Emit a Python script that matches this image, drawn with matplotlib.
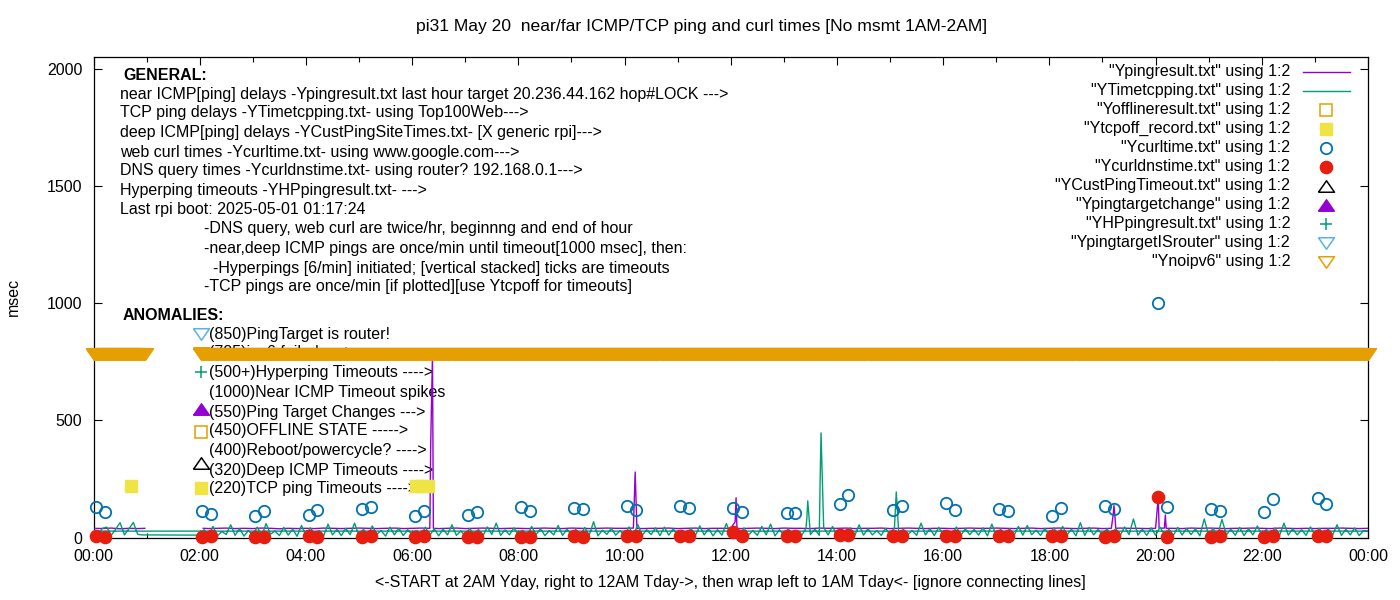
import numpy as np
import matplotlib
matplotlib.use("Agg")
import matplotlib.pyplot as plt

plt.rcParams['font.family'] = ['Liberation Sans', 'DejaVu Sans']
FS = 11.5

PURPLE = '#9400d3'
GREEN = '#009e73'
SKY = '#56b4e9'
ORANGE = '#e69f00'
YELLOW = '#f0e442'
BLUE = '#0072b2'
RED = '#e51e10'
nan = np.nan

# ---------------- data (times in "HH:MM", values in msec) ----------------
# near ICMP ping (Ypingresult.txt), every 10 min from 00:00 to 24:00, nan = no data
ping_vals = [
    40, 39, 41, 38, 40, 39,        # 00
    nan, nan, nan, nan, nan, nan,  # 01
    nan, 39, 40, 41, 39, 40,       # 02
    39, 41, 40, 38, 40, 39,        # 03
    40, 39, 41, 40, 39, 40,        # 04
    41, 40, 39, 40, 41, 39,        # 05
    40, 41, 40, 39, 40, 41,        # 06
    39, 40, 41, 40, 39, 40,        # 07
    40, 39, 40, 41, 40, 39,        # 08
    41, 40, 39, 40, 41, 40,        # 09
    40, 41, 39, 40, 40, 41,        # 10
    39, 40, 41, 39, 40, 40,        # 11
    40, 39, 40, 41, 40, 39,        # 12
    41, 40, 40, 39, 41, 40,        # 13
    40, 41, 39, 40, 40, 41,        # 14
    39, 40, 41, 40, 39, 40,        # 15
    40, 39, 40, 41, 40, 40,        # 16
    41, 40, 39, 40, 41, 39,        # 17
    40, 41, 40, 39, 40, 41,        # 18
    39, 40, 41, 40, 40, 39,        # 19
    40, 41, 40, 39, 41, 40,        # 20
    41, 40, 39, 40, 40, 41,        # 21
    40, 39, 41, 40, 39, 40,        # 22
    39, 40, 40, 41, 40, 39,        # 23
    40,                            # 24:00
]
ping_spike_t = ["00:58", "02:04", "06:21", "06:23", "06:24", "10:11", "10:12", "10:13", "10:14",
                "12:05", "12:06", "12:07", "19:12", "19:13", "19:14", "19:15",
                "20:03", "20:04", "20:11", "20:12"]
ping_spike_v = [40, 40, 400, 780, 40, 160, 280, 160, 40,
                68, 170, 40, 95, 137, 95, 40,
                172, 40, 97, 40]

# TCP ping (YTimetcpping.txt), every 5 min; file starts 02:00, runs to 24:00,
# then wraps to 00:00..00:55 and one last point at 01:58
tcp_main = [
    9, 34, 12, 48, 8, 26, 14, 55, 10, 38, 7, 30,      # 02
    12, 45, 8, 60, 15, 28, 9, 44, 11, 36, 6, 52,      # 03
    10, 42, 14, 30, 8, 58, 12, 35, 9, 40, 13, 62,     # 04
    8, 36, 11, 50, 14, 30, 7, 45, 12, 40, 9, 34,      # 05
    13, 30, 9, 45, 10, 38, 8, 36, 12, 55, 10, 28,     # 06
    9, 40, 12, 35, 8, 46, 14, 62, 10, 33, 12, 42,     # 07
    11, 32, 8, 48, 13, 38, 9, 30, 12, 52, 10, 36,     # 08
    12, 35, 9, 44, 10, 68, 8, 32, 14, 40, 11, 30,     # 09
    8, 46, 12, 56, 10, 34, 13, 42, 9, 45, 11, 38,     # 10
    10, 32, 14, 40, 9, 50, 12, 38, 8, 34, 11, 60,     # 11
    13, 36, 9, 42, 11, 30, 10, 48, 12, 58, 8, 34,     # 12
    10, 38, 12, 30, 9, 40, 13, 36, 10, 44, 12, 48,    # 13
    9, 35, 13, 42, 8, 55, 11, 38, 12, 30, 10, 40,     # 14
    11, 44, 9, 36, 13, 30, 10, 62, 12, 38, 9, 44,     # 15
    12, 30, 10, 46, 9, 38, 13, 35, 11, 42, 8, 58,     # 16
    10, 36, 12, 38, 9, 48, 11, 52, 13, 32, 10, 40,    # 17
    9, 42, 11, 48, 12, 36, 8, 64, 10, 44, 12, 35,     # 18
    12, 38, 10, 40, 9, 46, 13, 80, 11, 36, 10, 42,    # 19
    10, 45, 12, 36, 9, 44, 11, 40, 13, 38, 8, 80,     # 20
    11, 40, 9, 78, 12, 36, 10, 44, 9, 38, 12, 50,     # 21
    10, 35, 13, 42, 9, 62, 11, 38, 12, 34, 10, 46,    # 22
    12, 40, 9, 38, 11, 55, 10, 36, 12, 42, 9, 30,     # 23
    28,                                               # 24:00
]
tcp_spike_t = ["13:26", "13:27", "13:41", "13:42", "15:07"]
tcp_spike_v = [84, 157, 246, 447, 195]
tcp_wrap = [28, 12, 40, 45, 10, 36, 64, 12, 38, 65, 14, 12]   # 00:00..00:55
tcp_last_t, tcp_last_v = "01:58", 11

# web curl / DNS query times, twice an hour
curl_t = ["00:03", "00:13", "02:03", "02:13", "03:03", "03:13", "04:03", "04:13",
          "05:03", "05:13", "06:03", "06:13", "07:03", "07:13", "08:03", "08:13",
          "09:03", "09:13", "10:03", "10:13", "11:03", "11:13", "12:03", "12:13",
          "13:03", "13:13", "14:03", "14:13", "15:03", "15:13", "16:03", "16:13",
          "17:03", "17:13", "18:03", "18:13", "19:03", "19:13", "20:03", "20:13",
          "21:03", "21:13", "22:03", "22:13", "23:03", "23:13"]
curl_v = [130, 110, 114, 100, 93, 114, 97, 117, 121, 130, 94, 114, 97, 110,
          130, 115, 127, 124, 134, 117, 134, 127, 127, 108, 104, 104, 144, 181,
          117, 134, 148, 117, 121, 113, 93, 125, 134, 121, 1000, 130, 121, 115,
          108, 164, 168, 143]
dns_v = [6, 4, 5, 6, 3, 4, 6, 5, 4, 6, 5, 7, 4, 5, 5, 3, 6, 4, 7, 6, 8, 8,
         24, 7, 8, 7, 10, 12, 6, 8, 9, 8, 7, 9, 6, 9, 3, 7, 173, 4, 5, 6,
         4, 7, 6, 8]

tcpoff_t = ["00:42", "06:04", "06:11", "06:18"]
tcpoff_v = [220, 220, 220, 220]

# no ipv6: once a minute, 00:00-00:58 and 02:02-24:00
noipv6_ranges = [("00:00", "00:58"), ("02:02", "24:00")]
noipv6_level = 785

xticks_lbl = ["00:00", "02:00", "04:00", "06:00", "08:00", "10:00", "12:00",
              "14:00", "16:00", "18:00", "20:00", "22:00", "00:00"]


def hrs(s):
    h, m = s.split(':')
    return int(h) + int(m) / 60.0


def hrs_list(lst):
    return np.array([hrs(s) for s in lst])


TRI_DN = [(-1, 0.72), (1, 0.72), (0, -0.72), (-1, 0.72)]
TRI_UP = [(-1, -0.72), (1, -0.72), (0, 0.72), (-1, -0.72)]

styles = {
    'Yofflineresult': dict(marker='s', mfc='none', mec=ORANGE, ms=9, mew=1.1),
    'Ytcpoff_record': dict(marker='s', mfc=YELLOW, mec=YELLOW, ms=9),
    'Ycurltime': dict(marker='o', mfc='none', mec=BLUE, ms=8.2, mew=1.3),
    'Ycurldnstime': dict(marker='o', mfc=RED, mec=RED, ms=8.8),
    'YCustPingTimeout': dict(marker=TRI_UP, mfc='none', mec='black', ms=11.5, mew=1.1),
    'Ypingtargetchange': dict(marker=TRI_UP, mfc=PURPLE, mec=PURPLE, ms=11.5),
    'YHPpingresult': dict(marker='+', mfc='none', mec=GREEN, ms=9, mew=1.1),
    'YpingtargetISrouter': dict(marker=TRI_DN, mfc='none', mec=SKY, ms=11.5, mew=1.1),
    'Ynoipv6': dict(marker=TRI_DN, mfc='none', mec=ORANGE, ms=11.5, mew=1.1),
}

fig = plt.figure(figsize=(14, 6), dpi=100)
W, H = 1400.0, 600.0
ax = fig.add_axes([93.5 / W, 1 - 537.7 / H, (1368 - 93.5) / W, (537.7 - 57) / H])


def fpos(x, y):
    return x / W, 1 - y / H


# ---------- series ----------
ping_t = np.arange(len(ping_vals)) * 10 / 60.0
pt = np.concatenate([ping_t, hrs_list(ping_spike_t)])
pv = np.concatenate([np.array(ping_vals, float), ping_spike_v])
o = np.argsort(pt, kind='stable')
ax.plot(pt[o], pv[o], color=PURPLE, lw=1.0, zorder=3)

tm = 2 + np.arange(len(tcp_main)) * 5 / 60.0
tt = np.concatenate([tm, hrs_list(tcp_spike_t)])
tv = np.concatenate([np.array(tcp_main, float), tcp_spike_v])
o = np.argsort(tt, kind='stable')
tcp_x = np.concatenate([tt[o], np.arange(len(tcp_wrap)) * 5 / 60.0, [hrs(tcp_last_t)]])
tcp_y = np.concatenate([tv[o], tcp_wrap, [tcp_last_v]])
ax.plot(tcp_x, tcp_y, color=GREEN, lw=1.0, zorder=4)

ax.plot(hrs_list(tcpoff_t), tcpoff_v, ls='none', zorder=5, clip_on=False,
        **styles['Ytcpoff_record'])
ax.plot(hrs_list(curl_t), curl_v, ls='none', zorder=6, clip_on=False,
        **styles['Ycurltime'])
ax.plot(hrs_list(curl_t), dns_v, ls='none', zorder=7, clip_on=False,
        **styles['Ycurldnstime'])

nx = np.concatenate([np.arange(hrs(a) * 60, hrs(b) * 60 + 1) / 60.0
                     for a, b in noipv6_ranges])
band = dict(styles['Ynoipv6'])
band['mfc'] = ORANGE
ax.plot(nx, np.full(len(nx), noipv6_level), ls='none', zorder=8, clip_on=False, **band)

# ---------- axes ----------
ax.set_xlim(0, 24)
ax.set_ylim(0, 2050)
ax.set_xticks(np.arange(0, 25, 2))
ax.set_xticklabels(xticks_lbl)
ax.set_xticks(np.arange(1, 24, 2), minor=True)
ax.set_yticks([0, 500, 1000, 1500, 2000])
ax.tick_params(which='both', direction='in', top=True, right=True,
               labelsize=FS, pad=8, width=0.8)
ax.tick_params(which='major', length=6)
ax.tick_params(which='minor', length=3.5)
for s in ax.spines.values():
    s.set_linewidth(0.9)

fig.text(*fpos(702, 26), "pi31 May 20  near/far ICMP/TCP ping and curl times [No msmt 1AM-2AM]",
         ha='center', va='center', fontsize=12.6)
fig.text(*fpos(730, 583), "<-START at 2AM Yday, right to 12AM Tday->, then wrap left to 1AM Tday<- [ignore connecting lines]",
         ha='center', va='center', fontsize=FS)
fig.text(*fpos(13, 297), "msec", rotation=90, ha='center', va='center', fontsize=FS)

# ---------- labels inside the plot (behind the data) ----------
general = [
    (120, 94, "near ICMP[ping] delays -Ypingresult.txt last hour target 20.236.44.162 hop#LOCK --->"),
    (120, 113, "TCP ping delays -YTimetcpping.txt- using Top100Web--->"),
    (120, 132, "deep ICMP[ping] delays -YCustPingSiteTimes.txt- [X generic rpi]--->"),
    (120, 152, "web curl times -Ycurltime.txt- using www.google.com--->"),
    (120, 171, "DNS query times -Ycurldnstime.txt- using router? 192.168.0.1--->"),
    (120, 190, "Hyperping timeouts -YHPpingresult.txt- --->"),
    (120, 209, "Last rpi boot: 2025-05-01 01:17:24"),
    (204, 229, "-DNS query, web curl are twice/hr, beginnng and end of hour"),
    (204, 248, "-near,deep ICMP pings are once/min until timeout[1000 msec], then:"),
    (204, 268, "  -Hyperpings [6/min] initiated; [vertical stacked] ticks are timeouts"),
    (204, 287, "-TCP pings are once/min [if plotted][use Ytcpoff for timeouts]"),
]
tf = fig.transFigure
ax.text(*fpos(123, 75), "GENERAL:", fontweight='bold', va='center', fontsize=FS,
        transform=tf, zorder=0.5)
ax.text(*fpos(123, 315), "ANOMALIES:", fontweight='bold', va='center', fontsize=FS,
        transform=tf, zorder=0.5)
for x, y, s in general:
    ax.text(*fpos(x, y), s, va='center', fontsize=FS, transform=tf, zorder=0.5)

anomalies = [
    (334, 334, "(850)PingTarget is router!", 'YpingtargetISrouter'),
    (353, 353, "(785)ipv6 failed ---->", 'Ynoipv6'),
    (373, 372, "(500+)Hyperping Timeouts ---->", 'YHPpingresult'),
    (392, None, "(1000)Near ICMP Timeout spikes", None),
    (412, 409, "(550)Ping Target Changes --->", 'Ypingtargetchange'),
    (431, 432, "(450)OFFLINE STATE ----->", 'Yofflineresult'),
    (450, None, "(400)Reboot/powercycle? ---->", None),
    (470, 463, "(320)Deep ICMP Timeouts ---->", 'YCustPingTimeout'),
    (489, 487.5, "(220)TCP ping Timeouts ---->", 'Ytcpoff_record'),
]
for ty, my, s, key in anomalies:
    ax.text(*fpos(209, ty), s, va='center', fontsize=FS, transform=tf, zorder=0.5)
    if key:
        ax.plot(*fpos(200.5, my), transform=tf, clip_on=False,
                zorder=1, ls='none', **styles[key])

# ---------- key (top right) ----------
keys = ["Ypingresult.txt", "YTimetcpping.txt", "Yofflineresult.txt", "Ytcpoff_record.txt",
        "Ycurltime.txt", "Ycurldnstime.txt", "YCustPingTimeout.txt", "Ypingtargetchange",
        "YHPpingresult.txt", "YpingtargetISrouter", "Ynoipv6"]
for i, k in enumerate(keys):
    y = 71.7 + 19.0 * i
    fig.text(*fpos(1290, y), '"%s" using 1:2' % k, ha='right', va='center', fontsize=FS)
    if i == 0 or i == 1:
        col = PURPLE if i == 0 else GREEN
        x0, y0 = fpos(1303, y)
        x1, _ = fpos(1350, y)
        fig.add_artist(plt.Line2D([x0, x1], [y0, y0], color=col, lw=1.0))
    else:
        st = styles[k.replace('.txt', '')]
        ax.plot(*fpos(1326, y), transform=tf, clip_on=False, ls='none', **st)

fig.savefig('out.png', dpi=100)
